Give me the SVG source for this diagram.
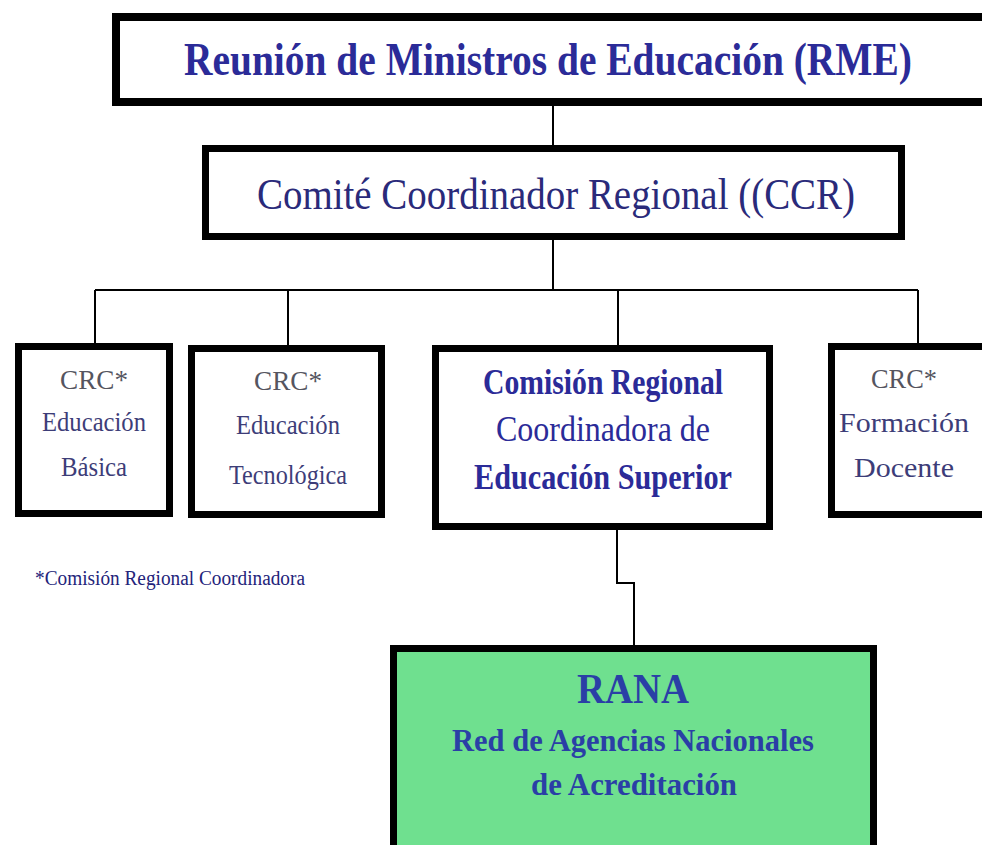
<svg xmlns="http://www.w3.org/2000/svg" width="982" height="845" viewBox="0 0 982 845">
<style>
.box{fill:#ffffff;stroke:#000;stroke-width:7}
.green{fill:#6fe08f;stroke:#000;stroke-width:7}
.conn{fill:none;stroke:#000;stroke-width:2}
.bold{font-family:"Liberation Serif",serif;font-weight:bold;fill:#2b2b98;text-anchor:middle}
.reg{font-family:"Liberation Serif",serif;fill:#2a2a7a;text-anchor:middle}
.small{font-family:"Liberation Serif",serif;fill:#3d3d78;text-anchor:middle;font-size:28px}
.crc{fill:#55555f}
.rana{font-family:"Liberation Serif",serif;font-weight:bold;fill:#2a3fa6;text-anchor:middle}
</style>
<rect width="982" height="845" fill="#ffffff"/>
<g id="connectors">
<line class="conn" x1="553" y1="106" x2="553" y2="146"/>
<line class="conn" x1="553" y1="240" x2="553" y2="290"/>
<line class="conn" x1="95" y1="290" x2="918" y2="290"/>
<line class="conn" x1="95" y1="290" x2="95" y2="344"/>
<line class="conn" x1="288" y1="290" x2="288" y2="346"/>
<line class="conn" x1="618" y1="290" x2="618" y2="346"/>
<line class="conn" x1="918" y1="290" x2="918" y2="344"/>
<polyline class="conn" points="617,528 617,583 634,583 634,646"/>
</g>
<g id="rme">
<rect x="116" y="17" width="872" height="85" style="fill:#fff;stroke:#000;stroke-width:8"/>
<text class="bold" x="548" y="75" font-size="47" textLength="728" lengthAdjust="spacingAndGlyphs">Reunión de Ministros de Educación (RME)</text>
</g>
<g id="ccr">
<rect class="box" x="205.5" y="148.5" width="696" height="88"/>
<text class="reg" x="556" y="209" font-size="45" textLength="598" lengthAdjust="spacingAndGlyphs">Comité Coordinador Regional  ((CCR)</text>
</g>
<g id="crc-basica">
<rect class="box" x="18.5" y="346.5" width="151" height="167"/>
<text class="small crc" x="94" y="389" textLength="68" lengthAdjust="spacingAndGlyphs">CRC*</text>
<text class="small" x="94" y="431" textLength="104" lengthAdjust="spacingAndGlyphs">Educación</text>
<text class="small" x="94" y="476" textLength="66" lengthAdjust="spacingAndGlyphs">Básica</text>
</g>
<g id="crc-tecnologica">
<rect class="box" x="191.5" y="348.5" width="190" height="166"/>
<text class="small crc" x="288" y="390" textLength="68" lengthAdjust="spacingAndGlyphs">CRC*</text>
<text class="small" x="288" y="434" textLength="104" lengthAdjust="spacingAndGlyphs">Educación</text>
<text class="small" x="288" y="484" textLength="118" lengthAdjust="spacingAndGlyphs">Tecnológica</text>
</g>
<g id="cres">
<rect class="box" x="435.5" y="348.5" width="334" height="178"/>
<text class="bold" x="603" y="394" font-size="35" textLength="240" lengthAdjust="spacingAndGlyphs">Comisión Regional</text>
<text class="bold" x="603" y="441" font-size="35" textLength="214" lengthAdjust="spacingAndGlyphs" style="font-weight:normal">Coordinadora de</text>
<text class="bold" x="603" y="489" font-size="35" textLength="258" lengthAdjust="spacingAndGlyphs">Educación Superior</text>
</g>
<g id="crc-formacion">
<rect class="box" x="831.5" y="346.5" width="160" height="168"/>
<text class="small crc" x="904" y="388" textLength="66" lengthAdjust="spacingAndGlyphs">CRC*</text>
<text class="small" x="904" y="432" textLength="130" lengthAdjust="spacingAndGlyphs">Formación</text>
<text class="small" x="904" y="477" textLength="100" lengthAdjust="spacingAndGlyphs">Docente</text>
</g>
<g id="footnote">
<text x="35" y="585" style="font-family:'Liberation Serif',serif;fill:#23237a;font-size:20px" textLength="270" lengthAdjust="spacingAndGlyphs">*Comisión Regional Coordinadora</text>
</g>
<g id="rana">
<rect class="green" x="393.5" y="648.5" width="480" height="210"/>
<text class="rana" x="633" y="703" font-size="42" textLength="112" lengthAdjust="spacingAndGlyphs">RANA</text>
<text class="rana" x="633" y="751" font-size="32" textLength="362" lengthAdjust="spacingAndGlyphs">Red de Agencias Nacionales</text>
<text class="rana" x="634" y="795" font-size="32" textLength="206" lengthAdjust="spacingAndGlyphs">de Acreditación</text>
</g>
</svg>
